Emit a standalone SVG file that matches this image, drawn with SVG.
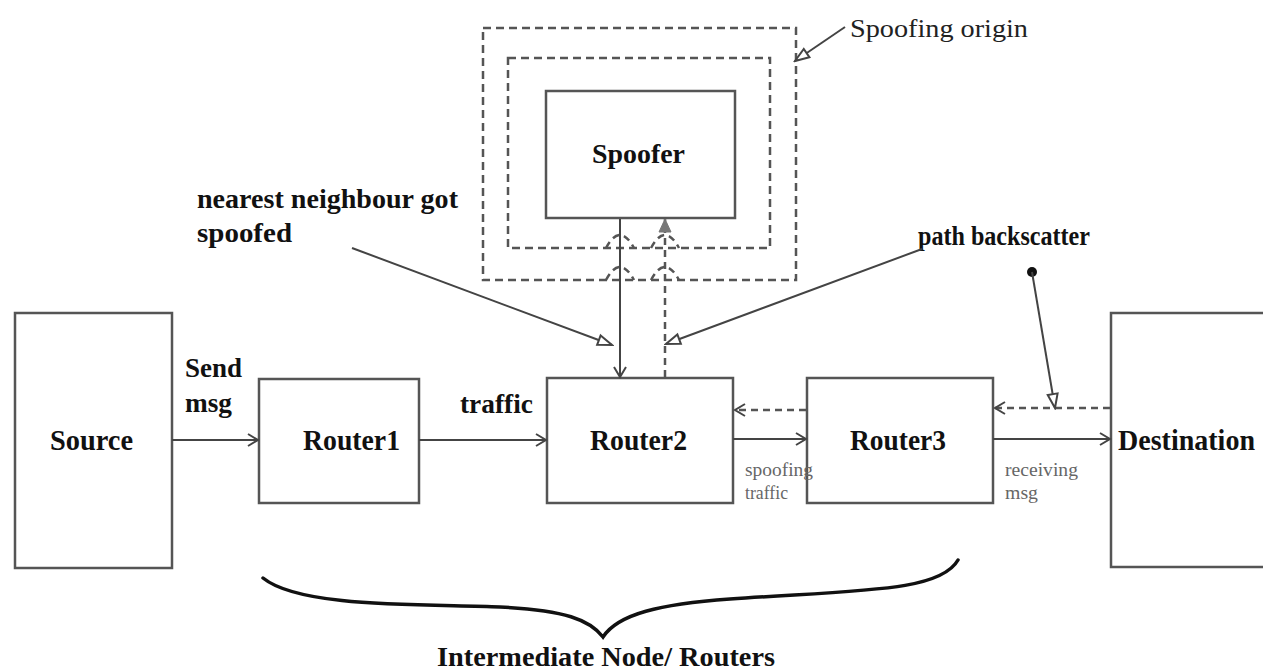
<svg xmlns="http://www.w3.org/2000/svg" width="1263" height="671" viewBox="0 0 1263 671">
<style>
.box{fill:#fff;stroke:#555;stroke-width:2.5}
.dbox{fill:none;stroke:#555;stroke-width:2.5;stroke-dasharray:8 5}
.ln{fill:none;stroke:#444;stroke-width:2}
.dl{fill:none;stroke:#555;stroke-width:2.5;stroke-dasharray:7 5}
.bt{font-family:"Liberation Serif","Times New Roman",serif;font-weight:bold;fill:#111}
.rt{font-family:"Liberation Serif","Times New Roman",serif;fill:#222}
.st{font-family:"Liberation Serif","Times New Roman",serif;fill:#666}
</style>
<defs>
<marker id="v" markerUnits="userSpaceOnUse" markerWidth="14" markerHeight="14" refX="12" refY="7" orient="auto">
<path d="M2,1 L12,7 L2,13" fill="none" stroke="#444" stroke-width="2"/>
</marker>
<marker id="ht" markerUnits="userSpaceOnUse" markerWidth="18" markerHeight="14" refX="16" refY="7" orient="auto">
<path d="M2,2 L16,7 L2,12 Z" fill="#fff" stroke="#444" stroke-width="2"/>
</marker>
<marker id="ft" markerUnits="userSpaceOnUse" markerWidth="16" markerHeight="14" refX="14" refY="7" orient="auto">
<path d="M1,1 L14,7 L1,13 Z" fill="#777" stroke="#777" stroke-width="1"/>
</marker>
</defs>
<rect width="1263" height="671" fill="#fff"/>

<g id="spoofing-origin">
<rect class="dbox" x="483" y="28" width="313" height="252"/>
<rect class="dbox" x="508" y="58" width="262" height="190"/>
<text class="rt" x="850" y="37" font-size="25" textLength="178" lengthAdjust="spacingAndGlyphs">Spoofing origin</text>
</g>

<g id="spoofer">
<rect class="box" x="546" y="91" width="189" height="127"/>
<text class="bt" x="592" y="163" font-size="27" textLength="93" lengthAdjust="spacingAndGlyphs">Spoofer</text>
</g>

<g id="source">
<rect class="box" x="15" y="313" width="157" height="255"/>
<text class="bt" x="50" y="450" font-size="30" textLength="83" lengthAdjust="spacingAndGlyphs">Source</text>
</g>

<g id="router1">
<rect class="box" x="259" y="379" width="160" height="124"/>
<text class="bt" x="303" y="450" font-size="30" textLength="97" lengthAdjust="spacingAndGlyphs">Router1</text>
</g>

<g id="router2">
<rect class="box" x="547" y="378" width="186" height="125"/>
<text class="bt" x="590" y="450" font-size="30" textLength="97" lengthAdjust="spacingAndGlyphs">Router2</text>
</g>

<g id="router3">
<rect class="box" x="807" y="378" width="186" height="125"/>
<text class="bt" x="850" y="450" font-size="30" textLength="96" lengthAdjust="spacingAndGlyphs">Router3</text>
</g>

<g id="destination">
<rect class="box" x="1111" y="313" width="170" height="254"/>
<text class="bt" x="1118" y="450" font-size="30" textLength="137" lengthAdjust="spacingAndGlyphs">Destination</text>
</g>

<g id="labels">
<text class="bt" x="185" y="377" font-size="28" textLength="57" lengthAdjust="spacingAndGlyphs">Send</text>
<text class="bt" x="185" y="412" font-size="28" textLength="47" lengthAdjust="spacingAndGlyphs">msg</text>
<text class="bt" x="460" y="413" font-size="28" textLength="73" lengthAdjust="spacingAndGlyphs">traffic</text>
<text class="bt" x="197" y="208" font-size="27" textLength="261" lengthAdjust="spacingAndGlyphs">nearest neighbour got</text>
<text class="bt" x="197" y="242" font-size="27" textLength="95" lengthAdjust="spacingAndGlyphs">spoofed</text>
<text class="bt" x="918" y="245" font-size="27" textLength="172" lengthAdjust="spacingAndGlyphs">path backscatter</text>
<text class="st" x="745" y="476" font-size="19" textLength="68" lengthAdjust="spacingAndGlyphs">spoofing</text>
<text class="st" x="745" y="499" font-size="19" textLength="43" lengthAdjust="spacingAndGlyphs">traffic</text>
<text class="st" x="1005" y="476" font-size="19" textLength="73" lengthAdjust="spacingAndGlyphs">receiving</text>
<text class="st" x="1005" y="499" font-size="19" textLength="33" lengthAdjust="spacingAndGlyphs">msg</text>
<text class="bt" x="437" y="666" font-size="28" textLength="338" lengthAdjust="spacingAndGlyphs">Intermediate Node/ Routers</text>
</g>

<g id="connectors">
<line class="ln" x1="172" y1="440" x2="258" y2="440" marker-end="url(#v)"/>
<line class="ln" x1="419" y1="440" x2="546" y2="440" marker-end="url(#v)"/>
<line class="ln" x1="733" y1="439" x2="806" y2="439" marker-end="url(#v)"/>
<line class="ln" x1="993" y1="439" x2="1110" y2="439" marker-end="url(#v)"/>
<line class="dl" x1="806" y1="410" x2="735" y2="410" marker-end="url(#v)"/>
<line class="dl" x1="1110" y1="408" x2="995" y2="408" marker-end="url(#v)"/>
<line class="ln" x1="620" y1="219" x2="620" y2="377" marker-end="url(#v)"/>
<line class="dl" x1="665" y1="377" x2="665" y2="219" marker-end="url(#ft)"/>
<path class="dl" d="M606,248 Q620,222 634,248 M606,280 Q620,254 634,280 M651,248 Q665,222 679,248 M651,280 Q665,254 679,280" stroke-dasharray="4 4" stroke-width="2"/>
<line class="ln" x1="352" y1="248" x2="612" y2="345" marker-end="url(#ht)"/>
<line class="ln" x1="922" y1="249" x2="666" y2="344" marker-end="url(#ht)"/>
<line class="ln" x1="845" y1="27" x2="795" y2="61" marker-end="url(#ht)"/>
<circle cx="1032" cy="272" r="5" fill="#111"/>
<line class="ln" x1="1032" y1="272" x2="1055" y2="408" marker-end="url(#ht)"/>
<path d="M263,578 C300,608 420,604 500,607 C565,610 590,620 603,637 C618,614 660,604 730,599 C860,590 940,592 958,560" fill="none" stroke="#111" stroke-width="3.5" stroke-linecap="round"/>
</g>
</svg>
